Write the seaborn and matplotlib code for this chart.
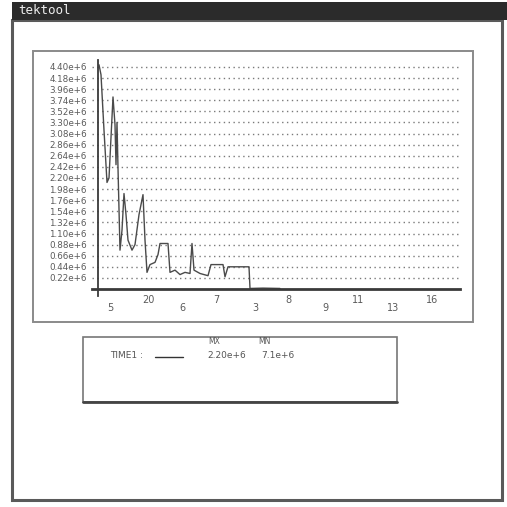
import numpy as np
import pandas as pd
import seaborn as sns
import matplotlib.pyplot as plt
from matplotlib.lines import Line2D
from matplotlib.patches import Rectangle
from matplotlib.transforms import ScaledTranslation

# trace (time units, grid units)
t = [1, 3, 6, 9, 11, 15, 17, 18, 19, 20, 22, 24, 26, 28, 30, 34, 37, 41, 45,
     47, 49, 52, 57, 60, 62, 70, 72, 77, 82, 87, 92, 94, 96, 102, 110, 113,
     125, 127, 130, 151, 152, 165, 182]
amp = [20.2, 19.3, 14.3, 9.6, 10.0, 17.3, 14.8, 11.2, 15.0, 10.9, 3.5, 5.3,
       8.6, 6.7, 4.4, 3.5, 4.0, 6.7, 8.5, 4.4, 1.5, 2.2, 2.4, 3.1, 4.1, 4.1,
       1.5, 1.7, 1.3, 1.5, 1.4, 4.1, 1.7, 1.4, 1.2, 2.2, 2.2, 1.1, 2.0, 2.0,
       0.05, 0.08, 0.05]
step = 2.2e5
xtick_pos = [12, 50, 84, 118, 157, 190, 227, 260, 295, 334]
xtick_lab = ["5", "20", "6", "7", "3", "8", "9", "11", "13", "16"]
legend_name = "TIME1 :"
legend_hdr = ["MX", "MN"]
legend_val = ["2.20e+6", "7.1e+6"]

df = pd.DataFrame({"t": t, "v": np.array(amp) * step})

sns.set_style("white")
plt.rcParams["font.family"] = ["DejaVu Sans"]

W = 507
fig = plt.figure(figsize=(5.07, 5.07), dpi=100)


def fx(px):
    return px / W


def fy(py):
    return 1 - py / W


def box(x0, y0, x1, y1, lw=1.5, ec="#555555", fc="none", z=0):
    fig.patches.append(Rectangle((fx(x0), fy(y1)), fx(x1) - fx(x0), fy(y0) - fy(y1),
                                 transform=fig.transFigure, lw=lw, ec=ec, fc=fc, zorder=z))


# window frame and title bar
box(12, 20, 502, 500, lw=2.2, ec="#5a5a5a")
box(12, 2, 507, 20, lw=0, ec="none", fc="#2b2b2b")
fig.text(fx(18), fy(11), "tektool", color="#eeeeee", fontsize=9,
         family="DejaVu Sans Mono", va="center", ha="left")

# plot panel and legend panel
box(33, 51, 473, 322, lw=1.4, ec="#8a8a8a")
box(83, 337, 397, 402, lw=1.2, ec="#777777")
fig.add_artist(Line2D([fx(83), fx(397)], [fy(402), fy(402)], transform=fig.transFigure,
                      color="#444444", lw=2))

ax = fig.add_axes([fx(92), fy(296), fx(460) - fx(92), fy(60) - fy(296)])
ax.set_facecolor("none")
sns.lineplot(data=df, x="t", y="v", ax=ax, color="#4a4a4a", lw=1.0, sort=False)

ax.set_xlim(-6, 362)
ax.set_ylim(-0.63 * step, 20.63 * step)
for s in ["top", "right"]:
    ax.spines[s].set_visible(False)
ax.spines["left"].set_position(("data", 0))
ax.spines["bottom"].set_position(("data", 0))
ax.spines["left"].set_color("#3a3a3a")
ax.spines["left"].set_linewidth(1.3)
ax.spines["bottom"].set_color("#3a3a3a")
ax.spines["bottom"].set_linewidth(2.0)

yt = np.arange(1, 21) * step
ax.set_yticks(yt)
ax.set_yticklabels([f"{v / 1e6:.2f}e+6" for v in yt], fontsize=6.3, color="#5a5a5a")
ax.tick_params(axis="y", length=0, pad=8)
ax.set_xticks(xtick_pos)
ax.set_xticklabels(xtick_lab, fontsize=7, color="#5a5a5a")
ax.tick_params(axis="x", length=0, pad=10)
for i, lab in enumerate(ax.get_xticklabels()):
    if i % 2 == 1:
        lab.set_transform(lab.get_transform() + ScaledTranslation(0, 0.08, fig.dpi_scale_trans))

ax.grid(axis="y", color="#7a7a7a", lw=1.0, linestyle=(0, (1, 2.5)))
ax.set_xlabel("")
ax.set_ylabel("")

# legend contents
fig.text(fx(110), fy(355), legend_name, fontsize=6.5, color="#555555", va="center")
fig.add_artist(Line2D([fx(155), fx(183)], [fy(357), fy(357)], transform=fig.transFigure,
                      color="#333333", lw=1))
fig.text(fx(214), fy(342), legend_hdr[0], fontsize=5.5, color="#555555", va="center", ha="center")
fig.text(fx(264), fy(342), legend_hdr[1], fontsize=5.5, color="#555555", va="center", ha="center")
fig.text(fx(207), fy(355), legend_val[0], fontsize=6.5, color="#555555", va="center")
fig.text(fx(261), fy(355), legend_val[1], fontsize=6.5, color="#555555", va="center")

fig.savefig("out.png", dpi=100, facecolor="white")
